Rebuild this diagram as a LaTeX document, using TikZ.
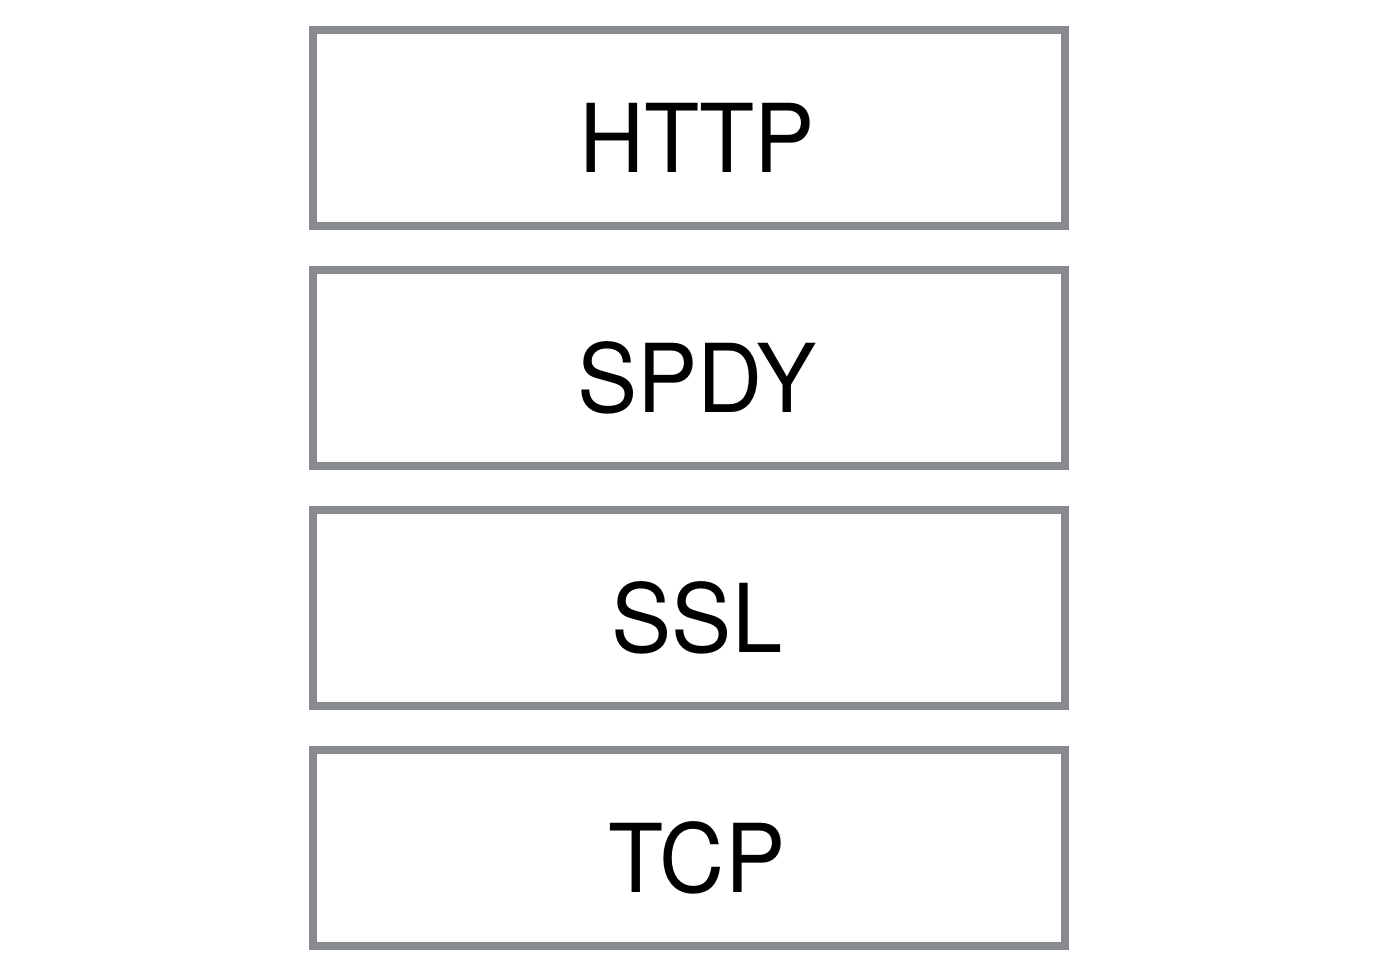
\documentclass[tikz,border=0pt]{standalone}
\usepackage{graphicx}
\usepackage{fontspec}
\setmainfont{TeX Gyre Heros}
\definecolor{boxgray}{HTML}{878A90}
\newcommand{\lbltext}[1]{\scalebox{0.95}[1]{#1}}
\tikzset{
  layer/.style={draw=boxgray, line width=8pt, fill=white},
  lbl/.style={anchor=base, inner sep=0pt, font=\fontsize{95}{95}\selectfont, text=black}
}
\begin{document}
\begin{tikzpicture}[x=1pt,y=-1pt]
\useasboundingbox (0,0) rectangle (1374,972);
\foreach \i in {0,1,2,3}{
  \path[layer] (312.5,{29.5+240*\i}) rectangle (1064.5,{225.5+240*\i});
}
\node[lbl] (http) at (697,172) {\lbltext{HTTP}};
\node[lbl] (spdy) at (697,412) {\lbltext{SPDY}};
\node[lbl] (ssl) at (697,652) {\lbltext{SSL}};
\node[lbl] (tcp) at (697,892) {\lbltext{TCP}};
\end{tikzpicture}
\end{document}
